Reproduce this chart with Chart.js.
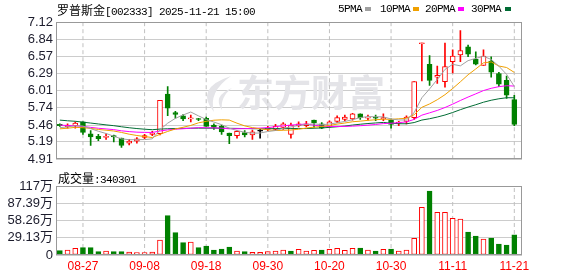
<!DOCTYPE html>
<html>
<head>
<meta charset="utf-8">
<script src="https://cdn.jsdelivr.net/npm/chart.js@4.4.1/dist/chart.umd.min.js"></script>
<style>
  body { margin: 0; background: #fff; }
  #wrap { position: relative; width: 578px; height: 276px; overflow: hidden; background: #fff; }
  .txt { position: absolute; white-space: nowrap; color: #000; line-height: 13px; }
  .cjk { font-family: "Noto Sans CJK SC", sans-serif; font-size: 12px; }
  .mono { font-family: "Liberation Mono", monospace; font-size: 11px; letter-spacing: -0.6px; }
  .sw { position: absolute; width: 6px; height: 4px; }
  #priceBox { position: absolute; left: 0; top: 0; }
  #volBox { position: absolute; left: 0; top: 170px; }
</style>
</head>
<body>
<div id="wrap">
  <div id="priceBox"><canvas id="priceChart" width="578" height="170"></canvas></div>
  <div id="volBox"><canvas id="volChart" width="578" height="106"></canvas></div>

  <div class="txt" style="left:57px; top:3px;"><span class="cjk">罗普斯金</span><span class="mono">[002333] 2025-11-21 15:00</span></div>

  <div class="txt mono" style="left:338px; top:3px;">5PMA</div>
  <div class="sw" style="left:365px; top:7px; background:#a0a0a0;"></div>
  <div class="txt mono" style="left:380px; top:3px;">10PMA</div>
  <div class="sw" style="left:413px; top:7px; background:#f0a000;"></div>
  <div class="txt mono" style="left:425px; top:3px;">20PMA</div>
  <div class="sw" style="left:458px; top:7px; background:#ff00ff;"></div>
  <div class="txt mono" style="left:471px; top:3px;">30PMA</div>
  <div class="sw" style="left:505px; top:7px; background:#006c34;"></div>

  <div class="txt" style="left:58px; top:171px;"><span class="cjk">成交量</span><span class="mono">:340301</span></div>
</div>

<script>
// trading days shown
const dates = [
  "08-22", "08-25", "08-26", "08-27", "08-28", "08-29",
  "09-01", "09-02", "09-03", "09-04", "09-05", "09-08", "09-09", "09-10", "09-11", "09-12",
  "09-15", "09-16", "09-17", "09-18", "09-19", "09-22", "09-23", "09-24", "09-25", "09-26",
  "09-29", "09-30",
  "10-09", "10-10", "10-13", "10-14", "10-15", "10-16", "10-17", "10-20", "10-21", "10-22",
  "10-23", "10-24", "10-27", "10-28", "10-29", "10-30", "10-31",
  "11-03", "11-04", "11-05", "11-06", "11-07", "11-10", "11-11", "11-12", "11-13", "11-14",
  "11-17", "11-18", "11-19", "11-20", "11-21",
];

const opens = [
  5.47, 5.43, 5.45, 5.51, 5.32, 5.28, 5.26, 5.29, 5.25, 5.17,
  5.20, 5.26, 5.31, 5.32, 5.96, 5.66, 5.61, 5.56, 5.56, 5.57,
  5.46, 5.44, 5.33, 5.29, 5.34, 5.30, 5.36, 5.39, 5.39, 5.42,
  5.31, 5.45, 5.45, 5.54, 5.48, 5.44, 5.52, 5.55, 5.56, 5.64,
  5.57, 5.58, 5.56, 5.54, 5.49, 5.52, 5.58, 6.77, 6.44, 6.23,
  6.16, 6.48, 6.59, 6.72, 6.52, 6.42, 6.49, 6.29, 6.18, 5.87,
];
const highs = [
  5.48, 5.48, 5.51, 5.51, 5.37, 5.31, 5.32, 5.30, 5.25, 5.23,
  5.26, 5.31, 5.36, 5.86, 6.08, 5.68, 5.63, 5.62, 5.57, 5.59,
  5.48, 5.46, 5.33, 5.37, 5.37, 5.38, 5.39, 5.44, 5.47, 5.50,
  5.49, 5.51, 5.52, 5.54, 5.50, 5.53, 5.61, 5.62, 5.65, 5.64,
  5.62, 5.62, 5.64, 5.56, 5.52, 5.61, 6.16, 6.78, 6.58, 6.41,
  6.78, 6.67, 6.98, 6.75, 6.64, 6.67, 6.56, 6.31, 6.25, 5.94,
];
const lows = [
  5.44, 5.41, 5.41, 5.31, 5.13, 5.21, 5.23, 5.19, 5.10, 5.14,
  5.17, 5.24, 5.29, 5.30, 5.61, 5.57, 5.53, 5.51, 5.53, 5.44,
  5.39, 5.31, 5.16, 5.25, 5.27, 5.23, 5.25, 5.37, 5.37, 5.39,
  5.25, 5.43, 5.43, 5.42, 5.40, 5.42, 5.50, 5.53, 5.54, 5.55,
  5.54, 5.53, 5.53, 5.41, 5.45, 5.48, 5.55, 6.17, 6.10, 6.13,
  6.07, 6.30, 6.48, 6.56, 6.43, 6.42, 6.23, 6.08, 5.89, 5.45,
];
const closes = [
  5.45, 5.46, 5.49, 5.34, 5.27, 5.24, 5.28, 5.27, 5.13, 5.20,
  5.24, 5.29, 5.33, 5.86, 5.73, 5.63, 5.56, 5.57, 5.55, 5.44,
  5.42, 5.35, 5.29, 5.36, 5.30, 5.35, 5.36, 5.41, 5.44, 5.48,
  5.46, 5.48, 5.48, 5.50, 5.41, 5.51, 5.58, 5.59, 5.64, 5.58,
  5.59, 5.57, 5.58, 5.47, 5.50, 5.59, 6.16, 6.78, 6.18, 6.26,
  6.40, 6.57, 6.66, 6.60, 6.44, 6.57, 6.31, 6.12, 5.94, 5.47,
];
const volumes = [
  73000, 84000, 113000, 124000, 124000, 56000, 68000, 56000, 56000, 51000,
  39000, 39000, 51000, 253000, 664000, 377000, 208000, 220000, 124000, 152000,
  84000, 101000, 135000, 68000, 56000, 45000, 45000, 56000, 68000, 84000,
  68000, 96000, 68000, 79000, 84000, 96000, 113000, 79000, 113000, 118000,
  84000, 68000, 96000, 101000, 68000, 84000, 281000, 805000, 1081000, 721000,
  721000, 619000, 608000, 388000, 321000, 270000, 287000, 186000, 169000, 340301,
];

// closes before the first visible day (needed for the moving averages), estimated
const priorCloses = [
  5.78, 5.74, 5.76, 5.70, 5.68, 5.72, 5.66, 5.65, 5.68, 5.63,
  5.60, 5.58, 5.55, 5.57, 5.52, 5.50, 5.49, 5.51, 5.46, 5.42,
  5.36, 5.35, 5.40, 5.37, 5.42, 5.40, 5.40, 5.36, 5.48,
];

const priceTicks = [4.91, 5.19, 5.46, 5.74, 6.01, 6.29, 6.57, 6.84, 7.12];
const volTicks = [0, 291300, 582600, 873900, 1165200];
const volTickLabels = ["0", "29.13万", "58.26万", "87.39万", "117万"];
const dateTicks = [3, 11, 19, 27, 35, 43, 51, 59];

const RED = "#ff0000";
const GREEN = "#008000";
const AXIS_FONT = { family: "'Liberation Sans', 'Noto Sans CJK SC', sans-serif", size: 13 };

function movingAverage(n) {
  const all = priorCloses.concat(closes);
  const off = priorCloses.length;
  return closes.map(function (_, i) {
    let s = 0;
    for (let k = i + off - n + 1; k <= i + off; k++) s += all[k];
    return s / n;
  });
}

function candleColor(i) {
  if (closes[i] > opens[i]) return RED;
  if (closes[i] < opens[i]) return GREEN;
  return "#000";
}

function volColor(i) {
  const prev = i === 0 ? priorCloses[priorCloses.length - 1] : closes[i - 1];
  return closes[i] >= prev ? RED : GREEN;
}

function maLine(n, color) {
  return {
    type: "line",
    data: movingAverage(n).map((v, i) => ({ x: i, y: v })),
    borderColor: color,
    borderWidth: 1,
    pointRadius: 0,
    tension: 0,
    order: 0,
  };
}

// dashed vertical guide at each labelled date, as line datasets spanning the y range
function dateGuides(yMin, yMax) {
  return dateTicks.map(function (t) {
    return {
      type: "line",
      data: [{ x: t, y: yMin }, { x: t, y: yMax }],
      borderColor: "#c0c0c0",
      borderWidth: 1,
      borderDash: [4, 3],
      pointRadius: 0,
      order: 5,
    };
  });
}

// frame around the plot area
const framePlugin = {
  id: "frame",
  afterDatasetsDraw(chart) {
    const a = chart.chartArea;
    const ctx = chart.ctx;
    ctx.save();
    ctx.strokeStyle = "#999";
    ctx.lineWidth = 1;
    ctx.strokeRect(Math.round(a.left) + 0.5, Math.round(a.top) + 0.5,
      Math.round(a.right - a.left) - 1, Math.round(a.bottom - a.top) - 1);
    ctx.restore();
  },
};

// faint brand watermark
const watermarkPlugin = {
  id: "watermark",
  beforeDatasetsDraw(chart) {
    const ctx = chart.ctx;
    ctx.save();
    ctx.fillStyle = "#e4e4e8";
    ctx.beginPath();
    ctx.moveTo(231, 76);
    ctx.quadraticCurveTo(194, 88, 214, 112);
    ctx.quadraticCurveTo(208, 92, 231, 76);
    ctx.fill();
    ctx.beginPath();
    ctx.moveTo(232, 88);
    ctx.quadraticCurveTo(212, 96, 222, 110);
    ctx.quadraticCurveTo(220, 97, 232, 88);
    ctx.fill();
    ctx.font = "bold 37px 'Noto Sans CJK SC'";
    ctx.textBaseline = "middle";
    ctx.fillText("东方财富", 237, 93);
    ctx.restore();
  },
};

const xScaleBase = {
  type: "linear",
  min: -0.5,
  max: 60,
  bounds: "data",
  offset: false,
  afterBuildTicks: function (s) {
    s.ticks = dateTicks.map((v) => ({ value: v }));
  },
  grid: { display: false, drawTicks: false, offset: false },
  border: { display: false },
};

document.addEventListener("DOMContentLoaded", function () {
  initPriceChart();
  initVolumeChart();
});

function initPriceChart() {
  const idx = closes.map((_, i) => i);
  const yMin = priceTicks[0];
  const yMax = priceTicks[priceTicks.length - 1];
  new Chart(document.getElementById("priceChart"), {
    type: "bar",
    data: {
      datasets: [
        maLine(5, "#a0a0a0"),
        maLine(10, "#f0a000"),
        maLine(20, "#ff00ff"),
        maLine(30, "#006c34"),
        {
          // candle bodies
          data: idx.map((i) => ({ x: i, y: [opens[i], closes[i]] })),
          backgroundColor: idx.map((i) => (closes[i] > opens[i] ? "#ffffff" : candleColor(i))),
          borderColor: idx.map(candleColor),
          borderWidth: 1,
          borderSkipped: false,
          barThickness: 5,
          minBarLength: 1,
          grouped: false,
          order: 1,
        },
        {
          // wicks
          data: idx.map((i) => ({ x: i, y: [lows[i], highs[i]] })),
          backgroundColor: idx.map(candleColor),
          borderWidth: 0,
          barThickness: 1,
          grouped: false,
          order: 2,
        },
      ].concat(dateGuides(yMin, yMax)),
    },
    options: {
      responsive: false,
      animation: false,
      layout: { padding: { top: 22, right: 56, bottom: 5, left: 0 } },
      plugins: { legend: { display: false }, tooltip: { enabled: false } },
      scales: {
        x: Object.assign({}, xScaleBase, {
          ticks: { display: false, autoSkip: false },
          afterFit: function (s) { s.height = 0; },
        }),
        y: {
          min: yMin,
          max: yMax,
          bounds: "data",
          afterBuildTicks: function (s) {
            s.ticks = priceTicks.map((v) => ({ value: v }));
          },
          afterFit: function (s) { s.width = 56; },
          ticks: {
            padding: 3,
            autoSkip: false,
            color: "#1c1c2c",
            font: AXIS_FONT,
            callback: (v) => v.toFixed(2),
          },
          grid: { color: "#cccccc", drawTicks: false },
          border: { display: false },
        },
      },
    },
    plugins: [watermarkPlugin, framePlugin],
  });
}

function initVolumeChart() {
  const idx = volumes.map((_, i) => i);
  const yMax = volTicks[volTicks.length - 1];
  new Chart(document.getElementById("volChart"), {
    type: "bar",
    data: {
      datasets: [
        {
          data: idx.map((i) => ({ x: i, y: volumes[i] })),
          backgroundColor: idx.map((i) => (volColor(i) === RED ? "#ffffff" : GREEN)),
          borderColor: idx.map(volColor),
          borderWidth: 1,
          borderSkipped: false,
          barThickness: 5,
          grouped: false,
          order: 1,
        },
      ].concat(dateGuides(0, yMax)),
    },
    options: {
      responsive: false,
      animation: false,
      layout: { padding: { top: 16, right: 56, bottom: 0, left: 0 } },
      plugins: { legend: { display: false }, tooltip: { enabled: false } },
      scales: {
        x: Object.assign({}, xScaleBase, {
          afterFit: function (s) { s.height = 21; },
          ticks: {
            color: RED,
            padding: 4,
            maxRotation: 0,
            autoSkip: false,
            font: { family: "'Liberation Sans', sans-serif", size: 12 },
            callback: (v) => dates[v],
          },
        }),
        y: {
          min: 0,
          max: yMax,
          bounds: "data",
          afterBuildTicks: function (s) {
            s.ticks = volTicks.map((v) => ({ value: v }));
          },
          afterFit: function (s) { s.width = 56; },
          ticks: {
            padding: 3,
            autoSkip: false,
            color: "#1c1c2c",
            font: AXIS_FONT,
            callback: (v, i) => volTickLabels[i],
          },
          grid: { color: "#cccccc", drawTicks: false },
          border: { display: false },
        },
      },
    },
    plugins: [framePlugin],
  });
}
</script>
</body>
</html>
